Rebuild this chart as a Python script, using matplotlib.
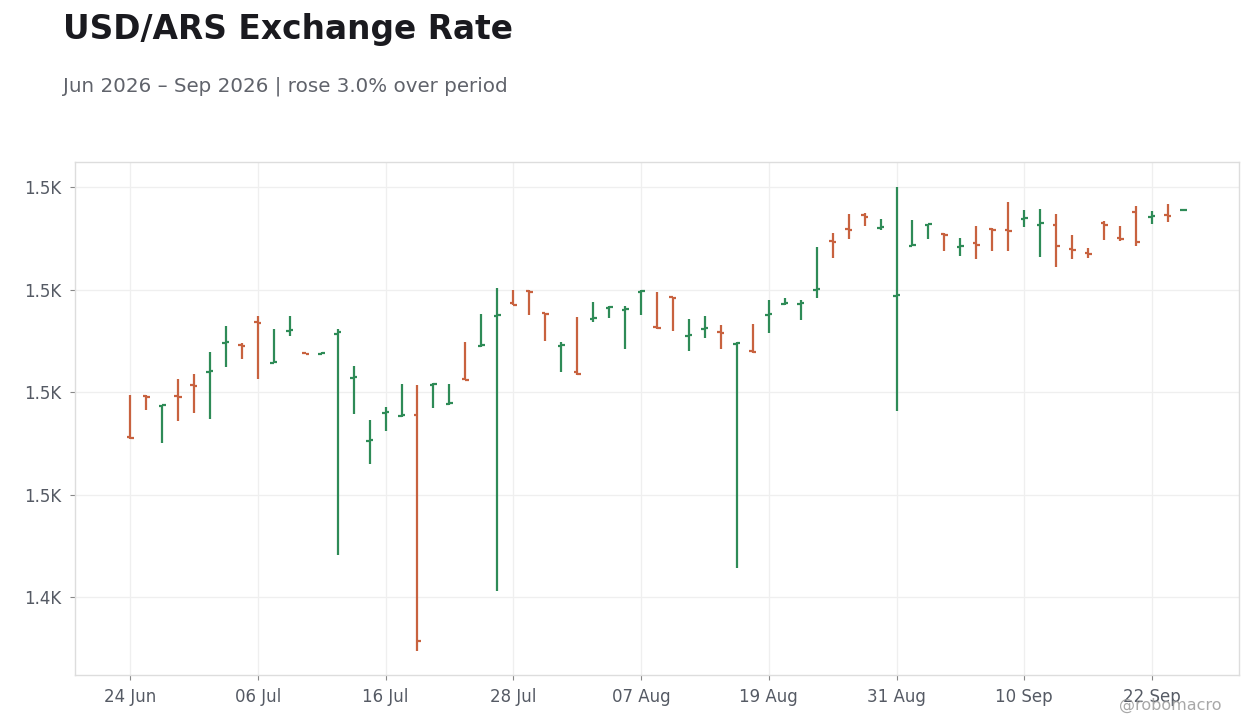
import numpy as np
import pandas as pd
import matplotlib
matplotlib.use("Agg")
import matplotlib.pyplot as plt
from matplotlib.ticker import FuncFormatter, FixedLocator

# daily OHLC, business days from 24 Jun 2026
dates = pd.bdate_range("2026-06-24", periods=67)

opens = [1471.2, 1479.3, 1477.2, 1479.3, 1481.3, 1483.9, 1489.5, 1489.1, 1493.7, 1485.6,
         1491.9, 1487.55, 1487.45, 1491.4, 1482.8, 1470.4, 1475.9, 1475.4, 1475.6, 1481.4,
         1477.6, 1482.5, 1488.9, 1494.9, 1497.3, 1499.8, 1495.5, 1488.9, 1484.0, 1494.2,
         1496.4, 1496.1, 1499.6, 1492.8, 1498.5, 1490.9, 1492.4, 1491.8, 1489.4, 1488.0,
         1495.0, 1497.1, 1497.1, 1499.9, 1509.5, 1511.9, 1514.5, 1512.0, 1498.7, 1508.6,
         1512.6, 1510.9, 1508.3, 1509.0, 1511.9, 1511.7, 1513.7, 1512.7, 1512.6, 1508.0,
         1507.1, 1512.9, 1510.1, 1515.1, 1514.1, 1514.5, 1515.45]
highs = [1479.4, 1479.4, 1477.5, 1482.5, 1483.5, 1487.8, 1492.9, 1489.5, 1494.8, 1492.3,
         1494.8, 1487.6, 1487.8, 1492.4, 1485.1, 1474.5, 1477.1, 1481.6, 1481.4, 1481.7,
         1481.6, 1489.7, 1495.2, 1500.3, 1499.9, 1499.9, 1495.5, 1489.7, 1494.6, 1497.5,
         1496.8, 1496.8, 1499.9, 1499.5, 1498.5, 1494.2, 1494.8, 1493.1, 1489.8, 1493.2,
         1497.9, 1498.3, 1497.9, 1508.3, 1511.0, 1514.7, 1514.9, 1513.7, 1520.1, 1513.5,
         1512.8, 1511.0, 1510.0, 1512.5, 1512.0, 1517.0, 1515.5, 1515.7, 1514.7, 1510.6,
         1508.1, 1513.3, 1512.5, 1516.4, 1515.3, 1516.8, 1515.6]
lows = [1470.8, 1476.5, 1470.0, 1474.3, 1475.9, 1474.8, 1484.9, 1486.4, 1482.6, 1485.6,
        1491.0, 1487.4, 1487.4, 1448.2, 1475.8, 1466.0, 1472.5, 1475.2, 1429.4, 1476.9,
        1477.5, 1482.3, 1488.8, 1441.1, 1497.0, 1495.1, 1490.0, 1484.0, 1483.4, 1493.7,
        1494.5, 1488.4, 1495.1, 1492.3, 1491.9, 1488.0, 1490.6, 1488.4, 1445.6, 1487.7,
        1491.6, 1497.0, 1494.1, 1498.4, 1506.2, 1509.9, 1512.4, 1511.6, 1476.4, 1508.5,
        1509.9, 1507.5, 1506.6, 1506.0, 1507.5, 1507.5, 1512.2, 1506.4, 1504.4, 1506.0,
        1506.2, 1509.7, 1509.5, 1508.5, 1512.8, 1513.2, 1515.4]
closes = [1471.0, 1479.1, 1477.4, 1479.1, 1481.1, 1484.1, 1489.7, 1488.9, 1493.5, 1485.8,
          1492.1, 1487.45, 1487.55, 1491.8, 1483.0, 1470.6, 1476.1, 1475.6, 1431.5, 1481.6,
          1477.8, 1482.35, 1489.1, 1495.1, 1497.0, 1499.6, 1495.3, 1489.1, 1483.5, 1494.4,
          1496.6, 1496.3, 1499.8, 1492.6, 1498.3, 1491.1, 1492.6, 1491.6, 1489.6, 1487.8,
          1495.2, 1497.3, 1497.3, 1500.1, 1509.3, 1511.7, 1514.2, 1512.2, 1498.9, 1508.8,
          1512.8, 1510.7, 1508.5, 1508.7, 1511.7, 1511.5, 1513.9, 1512.9, 1508.5, 1507.8,
          1506.9, 1512.7, 1509.9, 1509.3, 1514.3, 1514.3, 1515.55]

up_color = "#2e8b57"
down_color = "#c8623f"

o = np.array(opens)
h = np.array(highs)
l = np.array(lows)
c = np.array(closes)
x = np.arange(len(dates))
colors = [up_color if cc >= oo else down_color for oo, cc in zip(o, c)]

fig = plt.figure(figsize=(12.6, 7.28), dpi=100)
ax = fig.add_axes([75 / 1260, 1 - 675 / 728, (1239 - 75) / 1260, (675 - 162) / 728])

# high-low line, open tick to the left, close tick to the right
w = 0.22
ax.vlines(x, l, h, colors=colors, linewidth=1.6, zorder=3)
ax.hlines(o, x - w, x, colors=colors, linewidth=1.6, zorder=3)
ax.hlines(c, x, x + w, colors=colors, linewidth=1.6, zorder=3)

ax.set_xlim(-3.45, len(x) - 1 + 3.45)
ax.set_ylim(1424.8, 1524.9)

ax.yaxis.set_major_locator(FixedLocator([1440, 1460, 1480, 1500, 1520]))
ax.yaxis.set_major_formatter(FuncFormatter(lambda v, p: f"{v / 1000:.1f}K"))
tick_pos = x[::8]
ax.set_xticks(tick_pos)
ax.set_xticklabels([dates[i].strftime("%d %b") for i in tick_pos])

ax.grid(True, color="#efefef", linewidth=0.9, zorder=0)
for s in ax.spines.values():
    s.set_color("#dddddd")
    s.set_linewidth(1.0)
ax.tick_params(axis="both", length=3.5, width=0.8, color="#888888",
               labelsize=12, labelcolor="#555a64", pad=6)

fig.text(63 / 1260, 1 - 30 / 728, "USD/ARS Exchange Rate", fontsize=23.7,
         fontweight="bold", color="#1a1a1f", ha="left", va="center")
fig.text(63 / 1260, 1 - 86 / 728, "Jun 2026 \u2013 Sep 2026 | rose 3.0% over period",
         fontsize=14.3, color="#60636b", ha="left", va="center")
fig.text(1222 / 1260, 1 - 705 / 728, "@robomacro", fontsize=11.5, color="#999999",
         alpha=0.85, ha="right", va="center")

fig.savefig("out.png", dpi=100)
